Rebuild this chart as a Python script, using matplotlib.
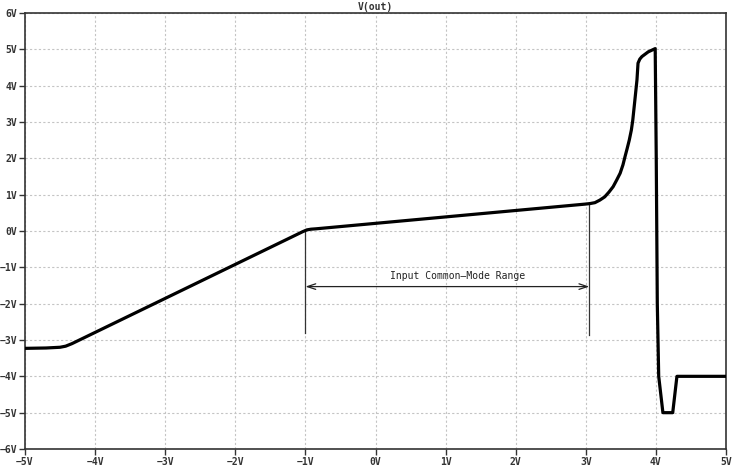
import matplotlib
matplotlib.use("Agg")
import matplotlib.pyplot as plt

# Curve data (Vin, Vout)
vin = [-5.0, -4.7, -4.5, -4.42, -4.33, -1.04, -0.98, -0.92, -0.85, 2.99, 3.06, 3.13, 3.20,
       3.27, 3.33, 3.39, 3.44, 3.49, 3.53, 3.56, 3.59, 3.62, 3.65, 3.67, 3.70, 3.73, 3.745,
       3.77, 3.80, 3.89, 3.99, 4.005, 4.02, 4.04, 4.10, 4.24, 4.30, 5.0]
vout = [-3.23, -3.22, -3.2, -3.17, -3.1, -0.02, 0.03, 0.05, 0.06, 0.74, 0.755, 0.78, 0.85,
        0.94, 1.07, 1.22, 1.40, 1.59, 1.82, 2.05, 2.27, 2.50, 2.78, 3.05, 3.60, 4.16, 4.62,
        4.73, 4.80, 4.93, 5.02, 2.0, -2.0, -4.0, -5.0, -5.0, -4.0, -4.0]

xticks = [-5, -4, -3, -2, -1, 0, 1, 2, 3, 4, 5]
yticks = [-6, -5, -4, -3, -2, -1, 0, 1, 2, 3, 4, 5, 6]
xlabels = ["\u22125V", "\u22124V", "\u22123V", "\u22122V", "\u22121V", "0V", "1V", "2V", "3V", "4V", "5V"]
ylabels = ["\u22126V", "\u22125V", "\u22124V", "\u22123V", "\u22122V", "\u22121V", "0V", "1V", "2V", "3V", "4V", "5V", "6V"]

title = "V(out)"
range_label = "Input Common\u2013Mode Range"
range_lo, range_hi = -1.0, 3.05

font = "DejaVu Sans Mono"

fig = plt.figure(figsize=(7.32, 4.71), dpi=100)
ax = fig.add_axes([25/732, 22/471, 701/732, 436/471])

ax.plot(vin, vout, color="black", lw=2.3, solid_joinstyle="round", zorder=3)

ax.set_xlim(-5, 5)
ax.set_ylim(-6, 6)
ax.set_xticks(xticks)
ax.set_xticklabels(xlabels, fontfamily=font, fontsize=7, fontweight="bold")
ax.set_yticks(yticks)
ax.set_yticklabels(ylabels, fontfamily=font, fontsize=7, fontweight="bold")
ax.tick_params(direction="out", length=4, width=1, color="#333333", pad=1.5, labelcolor="#333333")
ax.grid(True, color="#c4c4c4", linestyle=(0, (2, 2)), linewidth=0.8)
for s in ax.spines.values():
    s.set_color("#333333")
    s.set_linewidth(1.2)

ax.set_title(title, fontfamily=font, fontsize=7, fontweight="bold", pad=2, color="#333333")

# Annotation
ax.plot([range_lo, range_lo], [0.0, -2.82], color="#333333", lw=0.9, zorder=2)
ax.plot([range_hi, range_hi], [0.75, -2.87], color="#333333", lw=0.9, zorder=2)
ax.annotate("", xy=(range_lo, -1.53), xytext=(range_hi, -1.53),
            arrowprops=dict(arrowstyle="<->,head_length=0.6,head_width=0.2", color="#222222", lw=0.9,
                            shrinkA=0, shrinkB=0))
ax.text(1.17, -1.24, range_label, fontfamily=font, fontsize=7, ha="center", va="center", color="#222222")

fig.savefig("out.png", dpi=100)
